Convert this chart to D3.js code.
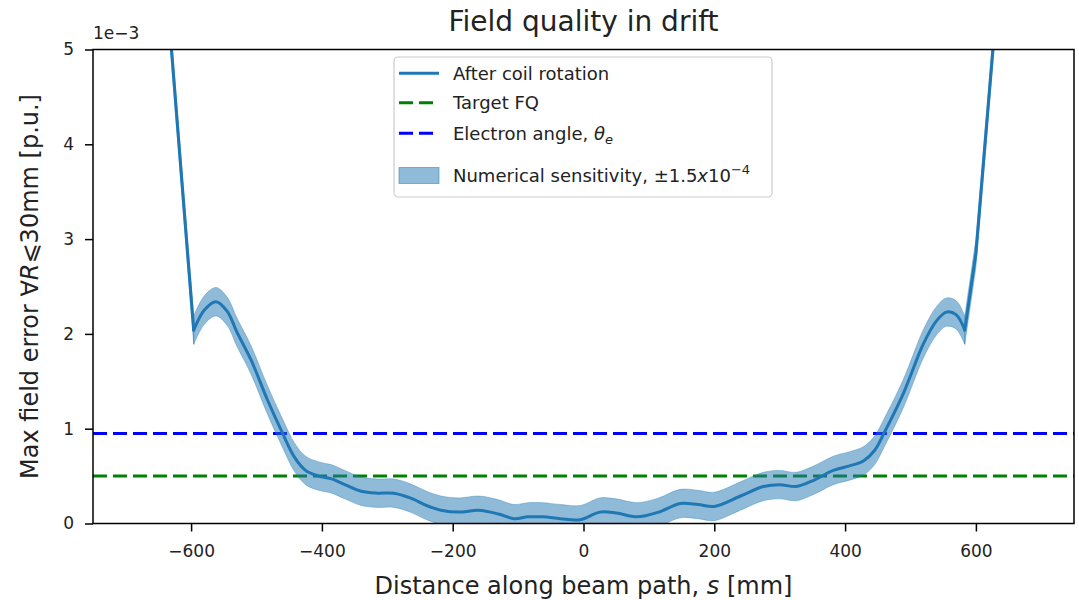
<!DOCTYPE html>
<html>
<head>
<meta charset="utf-8">
<script src="https://cdn.jsdelivr.net/npm/d3@7"></script>
<style>
  body { margin: 0; background: #fff; }
  svg { font-family: "DejaVu Sans", sans-serif; }
</style>
</head>
<body>
<svg id="svg" width="1079" height="600"></svg>
<script>
// distance along beam path, s [mm]
const sVals = [-660, -630, -614, -596, -580, -562, -545, -530, -508, -483, -460, -442, -425, -405, -385, -365, -340, -315, -290, -265, -240, -218, -190, -160, -130, -106, -85, -62, -35, -5, 25, 50, 82, 115, 148, 175, 200, 240, 275, 300, 325, 350, 382, 408, 428, 445, 460, 489, 520, 540, 555, 570, 583, 600, 626, 650];
// max field error, units of 1e-3
const errVals = [7.6, 5.0, 3.6, 2.04, 2.25, 2.34, 2.24, 2.02, 1.72, 1.30, 0.95, 0.70, 0.56, 0.50, 0.47, 0.41, 0.34, 0.32, 0.32, 0.27, 0.19, 0.14, 0.12, 0.14, 0.10, 0.05, 0.07, 0.07, 0.05, 0.04, 0.12, 0.11, 0.07, 0.12, 0.21, 0.20, 0.18, 0.29, 0.39, 0.41, 0.39, 0.45, 0.56, 0.61, 0.66, 0.77, 0.96, 1.37, 1.90, 2.14, 2.23, 2.20, 2.04, 2.85, 5.0, 7.0];
// the two cusps where the curve turns sharply
const dipLeft = -596, dipRight = 583;
const sensitivity = 0.15;
const targetFQ = 0.5;
const electronAngle = 0.95;
const xTicks = [-600, -400, -200, 0, 200, 400, 600];
const yTicks = [0, 1, 2, 3, 4, 5];

const data = sVals.map((s, i) => ({s: s, v: errVals[i]}));
const pieces = [
  {pts: data.filter(d => d.s <= dipLeft), curve: d3.curveLinear},
  {pts: data.filter(d => d.s >= dipLeft && d.s <= dipRight), curve: d3.curveCatmullRom.alpha(0.5)},
  {pts: data.filter(d => d.s >= dipRight), curve: d3.curveLinear}
];

const svg = d3.select("#svg");
const pLeft = 93, pRight = 1074, pTop = 49.5, pBottom = 523.5;

const x = d3.scaleLinear().domain([-750, 750]).range([pLeft, pRight]);
const y = d3.scaleLinear().domain([0, 5]).range([pBottom, pTop]);

const blue = "#1f77b4";
const fmt = d => d < 0 ? "\u2212" + Math.abs(d) : String(d);

svg.append("clipPath").attr("id", "clip")
  .append("rect")
  .attr("x", pLeft).attr("y", pTop)
  .attr("width", pRight - pLeft).attr("height", pBottom - pTop);

const plot = svg.append("g").attr("clip-path", "url(#clip)");

// reference lines
plot.append("line")
  .attr("x1", pLeft).attr("x2", pRight)
  .attr("y1", y(targetFQ)).attr("y2", y(targetFQ))
  .attr("stroke", "green").attr("stroke-width", 3)
  .attr("stroke-dasharray", "14,6");
plot.append("line")
  .attr("x1", pLeft).attr("x2", pRight)
  .attr("y1", y(electronAngle)).attr("y2", y(electronAngle))
  .attr("stroke", "blue").attr("stroke-width", 3)
  .attr("stroke-dasharray", "14,6");

// sensitivity band, then the curve itself
pieces.forEach(p => {
  const band = d3.area()
    .x(d => x(d.s))
    .y0(d => y(d.v - sensitivity))
    .y1(d => y(d.v + sensitivity))
    .curve(p.curve);
  plot.append("path")
    .datum(p.pts)
    .attr("d", band)
    .attr("fill", blue).attr("fill-opacity", 0.5)
    .attr("stroke", blue).attr("stroke-opacity", 0.35).attr("stroke-width", 1);
});
pieces.forEach(p => {
  const line = d3.line()
    .x(d => x(d.s))
    .y(d => y(d.v))
    .curve(p.curve);
  plot.append("path")
    .datum(p.pts)
    .attr("d", line)
    .attr("fill", "none")
    .attr("stroke", blue).attr("stroke-width", 3)
    .attr("stroke-linecap", "round").attr("stroke-linejoin", "round");
});

// axes
const xAxis = svg.append("g")
  .attr("transform", `translate(0,${pBottom})`)
  .call(d3.axisBottom(x).tickValues(xTicks).tickSize(8).tickPadding(13).tickFormat(fmt));
const yAxis = svg.append("g")
  .attr("transform", `translate(${pLeft},0)`)
  .call(d3.axisLeft(y).tickValues(yTicks).tickSize(8).tickPadding(11).tickFormat(fmt));
[xAxis, yAxis].forEach(g => {
  g.select(".domain").remove();
  g.selectAll(".tick line").attr("stroke", "#000").attr("stroke-width", 1.5);
  g.selectAll(".tick text")
    .attr("font-size", 17).attr("font-family", "DejaVu Sans").attr("fill", "#222");
});

svg.append("rect")
  .attr("x", pLeft).attr("y", pTop)
  .attr("width", pRight - pLeft).attr("height", pBottom - pTop)
  .attr("fill", "none").attr("stroke", "#000").attr("stroke-width", 1.5);

// offset text
svg.append("text")
  .attr("x", pLeft).attr("y", 39)
  .attr("font-size", 17).attr("fill", "#222")
  .text("1e\u22123");

// title and labels
svg.append("text")
  .attr("x", (pLeft + pRight) / 2).attr("y", 31)
  .attr("text-anchor", "middle").attr("font-size", 28).attr("fill", "#222")
  .text("Field quality in drift");

const xl = svg.append("text")
  .attr("x", (pLeft + pRight) / 2).attr("y", 594)
  .attr("text-anchor", "middle").attr("font-size", 24).attr("fill", "#222");
xl.append("tspan").text("Distance along beam path, ");
xl.append("tspan").attr("font-style", "italic").text("s");
xl.append("tspan").text(" [mm]");

const yl = svg.append("text")
  .attr("transform", `translate(38,${(pTop + pBottom) / 2}) rotate(-90)`)
  .attr("text-anchor", "middle").attr("font-size", 24).attr("fill", "#222");
yl.append("tspan").text("Max field error \u2200");
yl.append("tspan").attr("font-style", "italic").text("R");
yl.append("tspan").text("\u2a7d30mm [p.u.]");

// legend
const lg = svg.append("g");
lg.append("rect")
  .attr("x", 394).attr("y", 57).attr("width", 378).attr("height", 140)
  .attr("rx", 4).attr("fill", "#fff").attr("fill-opacity", 0.8)
  .attr("stroke", "#ccc").attr("stroke-width", 1.2);

const rows = [
  {cy: 73.3, kind: "line", color: blue, dash: null},
  {cy: 102.7, kind: "line", color: "green", dash: "14,6"},
  {cy: 133.3, kind: "line", color: "blue", dash: "14,6"},
  {cy: 175.5, kind: "patch", color: blue}
];
rows.forEach(r => {
  if (r.kind === "line") {
    lg.append("line")
      .attr("x1", 399).attr("x2", 439).attr("y1", r.cy).attr("y2", r.cy)
      .attr("stroke", r.color).attr("stroke-width", 3)
      .attr("stroke-dasharray", r.dash);
  } else {
    lg.append("rect")
      .attr("x", 399).attr("y", r.cy - 8).attr("width", 40).attr("height", 16)
      .attr("fill", r.color).attr("fill-opacity", 0.5)
      .attr("stroke", r.color).attr("stroke-opacity", 0.5);
  }
});

const tx = 453;
lg.append("text").attr("x", tx).attr("y", 80).attr("font-size", 18).attr("fill", "#222")
  .text("After coil rotation");
lg.append("text").attr("x", tx).attr("y", 109).attr("font-size", 18).attr("fill", "#222")
  .text("Target FQ");
const t3 = lg.append("text").attr("x", tx).attr("y", 140).attr("font-size", 18).attr("fill", "#222");
t3.append("tspan").text("Electron angle, ");
t3.append("tspan").attr("font-style", "italic").text("\u03b8");
t3.append("tspan").attr("font-style", "italic").attr("font-size", 13).attr("dy", 4).text("e");
const t4 = lg.append("text").attr("x", tx).attr("y", 182).attr("font-size", 18).attr("fill", "#222");
t4.append("tspan").text("Numerical sensitivity, \u00b11.5");
t4.append("tspan").attr("font-style", "italic").text("x");
t4.append("tspan").text("10");
t4.append("tspan").attr("font-size", 13).attr("dy", -8).text("\u22124");
</script>
</body>
</html>
